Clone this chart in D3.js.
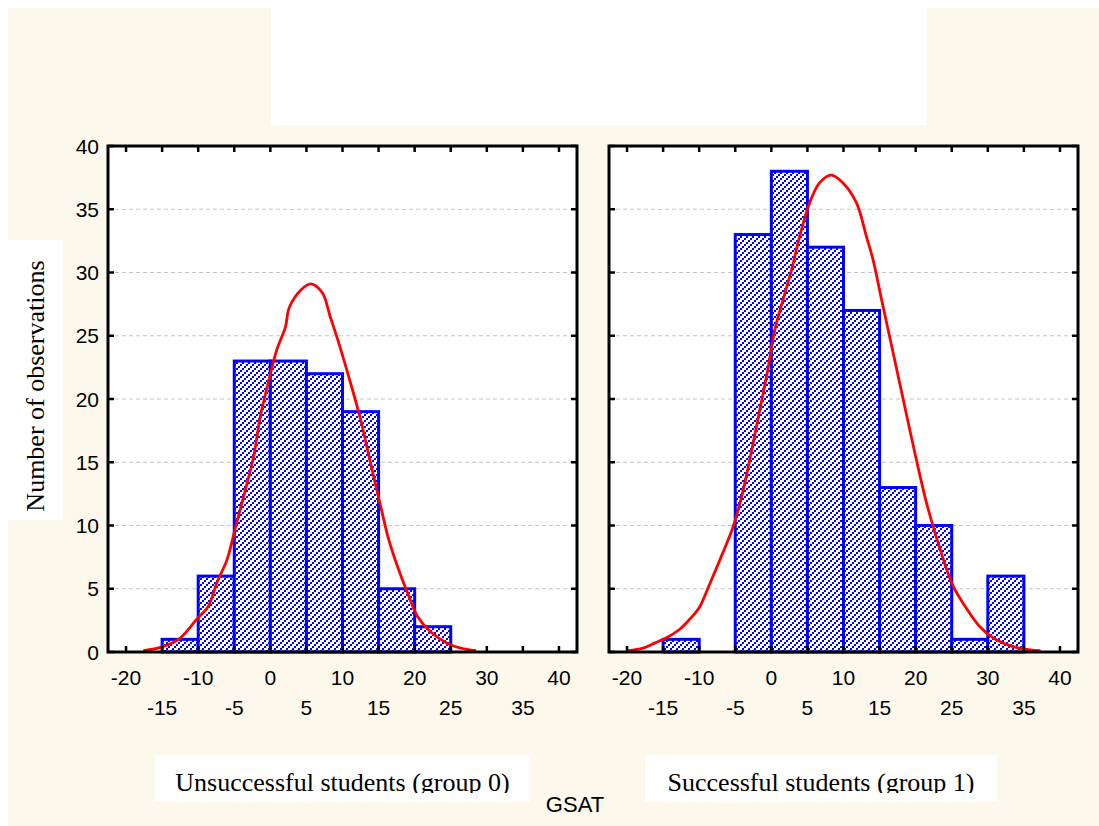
<!DOCTYPE html>
<html><head><meta charset="utf-8">
<script src="https://cdn.jsdelivr.net/npm/d3@7"></script>
<style>html,body{margin:0;padding:0;background:#fff;}svg{display:block;}</style>
</head><body>
<svg id="chart" width="1099" height="826"></svg>
<script>
// ---------- data ----------
const binStarts = [-15, -10, -5, 0, 5, 10, 15, 20, 25, 30];
const binWidth = 5;
const countsGroup0 = [1, 6, 23, 23, 22, 19, 5, 2, 0, 0];
const countsGroup1 = [1, 0, 33, 38, 32, 27, 13, 10, 1, 6];
const curveGroup0 = [
  [-17.6,0.1],[-15,0.4],[-12.5,1.1],[-10.2,2.6],[-8.6,3.6],[-7.4,5.5],[-6.0,7.3],[-4.9,9.7],
  [-3.7,12.3],[-2.3,15.5],[-1.4,18.6],[-0.2,21.5],[0.9,23.9],[2.1,25.7],[2.6,27.2],[4.2,28.6],
  [5.6,29.1],[7.2,28.4],[8.3,26.5],[9.5,24.4],[11.1,21.3],[12.5,18.4],[13.9,14.9],[15.3,11.5],
  [16.4,8.9],[17.6,6.8],[19.0,4.7],[20.4,2.8],[22.2,1.6],[24.5,0.7],[26.4,0.3],[28.5,0.1]
];
const curveGroup1 = [
  [-19.9,0.1],[-17.8,0.3],[-16.2,0.7],[-14.6,1.1],[-12.7,1.8],[-11.3,2.6],[-10.0,3.5],[-8.6,5.3],
  [-6.9,7.6],[-5.3,9.9],[-3.9,12.8],[-2.6,16.3],[-1.4,19.7],[-0.5,22.3],[0.5,25.5],[1.6,27.8],
  [2.8,30.2],[3.9,32.8],[5.3,35.5],[6.7,37.1],[8.3,37.7],[9.9,37.1],[11.8,35.5],[13.2,32.8],
  [14.1,31.0],[15.3,27.8],[16.9,23.6],[18.3,19.9],[20.1,15.2],[21.5,11.8],[23.4,8.1],[25.2,5.2],
  [27.1,3.4],[28.9,2.0],[30.8,1.1],[33.1,0.5],[34.9,0.25],[37.3,0.1]
];
const yTicks = [0, 5, 10, 15, 20, 25, 30, 35, 40];
const xTickMarks = [-20, -15, -10, -5, 0, 5, 10, 15, 20, 25, 30, 35, 40];
const xTicksUpper = [-20, -10, 0, 10, 20, 30, 40];
const xTicksLower = [-15, -5, 5, 15, 25, 35];
const panelLabels = ["Unsuccessful students (group 0)", "Successful students (group 1)"];
const yTitle = "Number of observations";
const xTitle = "GSAT";

// ---------- layout ----------
const W = 1099, H = 826;
const cream = "#fdf8ec";
const plotTop = 146, plotBottom = 652;
const panels = [
  {x0: 108, x1: 577, counts: countsGroup0, curve: curveGroup0, label: panelLabels[0], box: [155, 755, 375, 47], showY: true},
  {x0: 609, x1: 1078, counts: countsGroup1, curve: curveGroup1, label: panelLabels[1], box: [645, 755, 352, 47], showY: false}
];
const sansFont = "'Liberation Sans', Arial, sans-serif";
const serifFont = "'Liberation Serif', 'Times New Roman', serif";

const svg = d3.select("#chart");
const defs = svg.append("defs");

// dotted "/" hatch built from pixel squares
const pat = defs.append("pattern").attr("id", "hatch")
  .attr("patternUnits", "userSpaceOnUse").attr("width", 6).attr("height", 6);
pat.append("rect").attr("width", 6).attr("height", 6).attr("fill", "#fff");
[[0, 4], [2, 2], [4, 0]].forEach(([px, py]) =>
  pat.append("rect").attr("x", px).attr("y", py).attr("width", 2).attr("height", 2)
    .attr("fill", "#0000ff").attr("shape-rendering", "crispEdges"));

// backgrounds
svg.append("rect").attr("x", 0).attr("y", 0).attr("width", W).attr("height", H).attr("fill", "#fff");
svg.append("rect").attr("x", 8).attr("y", 8).attr("width", W - 8).attr("height", H - 8).attr("fill", cream);
svg.append("rect").attr("x", 271).attr("y", 8).attr("width", 656).attr("height", 117).attr("fill", "#fff");

const y = d3.scaleLinear().domain([0, 40]).range([plotBottom, plotTop]);

panels.forEach((p, i) => {
  const x = d3.scaleLinear().domain([-22.5, 42.5]).range([p.x0, p.x1]);
  const g = svg.append("g");
  const cid = "clip" + i;
  defs.append("clipPath").attr("id", cid).append("rect")
    .attr("x", p.x0).attr("y", plotTop).attr("width", p.x1 - p.x0).attr("height", plotBottom - plotTop);

  // plot area
  g.append("rect").attr("x", p.x0).attr("y", plotTop).attr("width", p.x1 - p.x0).attr("height", plotBottom - plotTop).attr("fill", "#fff");

  // gridlines
  g.append("g").selectAll("line").data(yTicks.filter(d => d > 0 && d < 40)).join("line")
    .attr("x1", p.x0).attr("x2", p.x1).attr("y1", d => y(d)).attr("y2", d => y(d))
    .attr("stroke", "#c4c4c4").attr("stroke-width", 1).attr("stroke-dasharray", "4,3");

  // bars
  const bins = binStarts.map((s, k) => ({s, c: p.counts[k]})).filter(d => d.c > 0);
  g.append("g").selectAll("rect").data(bins).join("rect")
    .attr("x", d => x(d.s)).attr("width", d => x(d.s + binWidth) - x(d.s))
    .attr("y", d => y(d.c)).attr("height", d => y(0) - y(d.c))
    .attr("fill", "url(#hatch)").attr("stroke", "#0000ff").attr("stroke-width", 3);

  // fitted curve
  const line = d3.line().x(d => x(d[0])).y(d => y(d[1])).curve(d3.curveCatmullRom.alpha(0.5));
  g.append("path").datum(p.curve).attr("d", line).attr("clip-path", `url(#${cid})`)
    .attr("fill", "none").attr("stroke", "#ff0000").attr("stroke-width", 2.8).attr("stroke-linejoin", "round");

  // frame
  g.append("rect").attr("x", p.x0).attr("y", plotTop).attr("width", p.x1 - p.x0).attr("height", plotBottom - plotTop)
    .attr("fill", "none").attr("stroke", "#000").attr("stroke-width", 3);

  // tick marks (inside)
  const tk = g.append("g").attr("stroke", "#000").attr("stroke-width", 2.5);
  tk.selectAll(".xb").data(xTickMarks).join("line").attr("class", "xb")
    .attr("x1", d => x(d)).attr("x2", d => x(d)).attr("y1", plotBottom).attr("y2", plotBottom - 6);
  tk.selectAll(".xt").data(xTickMarks).join("line").attr("class", "xt")
    .attr("x1", d => x(d)).attr("x2", d => x(d)).attr("y1", plotTop).attr("y2", plotTop + 6);
  tk.selectAll(".yl").data(yTicks).join("line").attr("class", "yl")
    .attr("x1", p.x0).attr("x2", p.x0 + 6).attr("y1", d => y(d)).attr("y2", d => y(d));
  tk.selectAll(".yr").data(yTicks).join("line").attr("class", "yr")
    .attr("x1", p.x1).attr("x2", p.x1 - 6).attr("y1", d => y(d)).attr("y2", d => y(d));

  // x tick labels (two staggered rows)
  g.append("g").selectAll("text").data(xTicksUpper).join("text")
    .attr("x", d => x(d)).attr("y", 685).attr("text-anchor", "middle")
    .attr("font-family", sansFont).attr("font-size", 21).attr("fill", "#000").text(d => d);
  g.append("g").selectAll("text").data(xTicksLower).join("text")
    .attr("x", d => x(d)).attr("y", 715).attr("text-anchor", "middle")
    .attr("font-family", sansFont).attr("font-size", 21).attr("fill", "#000").text(d => d);

  if (p.showY) {
    g.append("g").selectAll("text").data(yTicks).join("text")
      .attr("x", 99).attr("y", d => y(d) + 7.5).attr("text-anchor", "end")
      .attr("font-family", sansFont).attr("font-size", 21).attr("fill", "#000").text(d => d);
  }

  // panel label box
  const [bx, by, bw, bh] = p.box;
  g.append("rect").attr("x", bx).attr("y", by).attr("width", bw).attr("height", bh).attr("fill", "#fff");
  const lid = "lclip" + i;
  defs.append("clipPath").attr("id", lid).append("rect").attr("x", bx).attr("y", by).attr("width", bw).attr("height", 38);
  g.append("text").attr("x", bx + bw / 2).attr("y", 791).attr("text-anchor", "middle")
    .attr("clip-path", `url(#${lid})`)
    .attr("font-family", serifFont).attr("font-size", 26).attr("fill", "#000").text(p.label);
});

// y title
svg.append("rect").attr("x", 8).attr("y", 240).attr("width", 55).attr("height", 280).attr("fill", "#fff");
svg.append("text").attr("transform", "translate(44,386) rotate(-90)").attr("text-anchor", "middle")
  .attr("font-family", serifFont).attr("font-size", 26).attr("fill", "#000").text(yTitle);

// x title
svg.append("text").attr("x", 575).attr("y", 812).attr("text-anchor", "middle")
  .attr("font-family", sansFont).attr("font-size", 22).attr("fill", "#000").text(xTitle);
</script>
</body></html>
